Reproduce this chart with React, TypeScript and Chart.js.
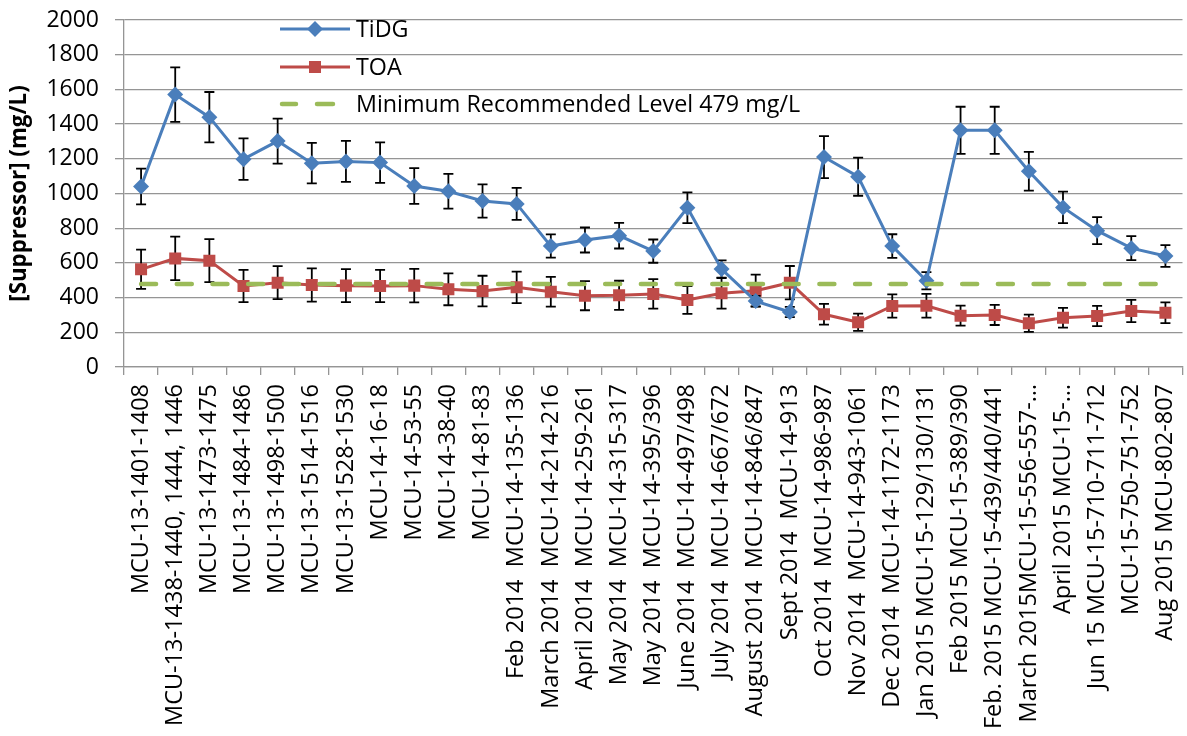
import { useEffect, useRef } from "react";
import { Chart, registerables } from "chart.js";

Chart.register(...registerables);

const categories = [
  "MCU-13-1401-1408",
  "MCU-13-1438-1440, 1444, 1446",
  "MCU-13-1473-1475",
  "MCU-13-1484-1486",
  "MCU-13-1498-1500",
  "MCU-13-1514-1516",
  "MCU-13-1528-1530",
  "MCU-14-16-18",
  "MCU-14-53-55",
  "MCU-14-38-40",
  "MCU-14-81-83",
  "Feb 2014  MCU-14-135-136",
  "March 2014  MCU-14-214-216",
  "April 2014  MCU-14-259-261",
  "May 2014  MCU-14-315-317",
  "May 2014  MCU-14-395/396",
  "June 2014  MCU-14-497/498",
  "July 2014  MCU-14-667/672",
  "August 2014  MCU-14-846/847",
  "Sept 2014  MCU-14-913",
  "Oct 2014  MCU-14-986-987",
  "Nov 2014  MCU-14-943-1061",
  "Dec 2014  MCU-14-1172-1173",
  "Jan 2015 MCU-15-129/130/131",
  "Feb 2015 MCU-15-389/390",
  "Feb. 2015 MCU-15-439/440/441",
  "March 2015MCU-15-556-557-…",
  "April 2015 MCU-15-…",
  "Jun 15 MCU-15-710-711-712",
  "MCU-15-750-751-752",
  "Aug 2015 MCU-802-807",
];

const tidgValues = [
  1040, 1570, 1440, 1198, 1302, 1175, 1185, 1178, 1043, 1013, 957, 940, 697, 732, 757, 668,
  918, 565, 380, 317, 1210, 1097, 697, 497, 1364, 1364, 1128, 920, 786, 685, 640,
];
const tidgErrors = [
  103, 157, 145, 120, 130, 117, 118, 117, 103, 100, 96, 92, 67, 72, 74, 67,
  89, 50, 30, 30, 121, 110, 68, 50, 136, 136, 112, 91, 78, 69, 63,
];
const toaValues = [
  563, 626, 613, 467, 486, 473, 469, 467, 469, 448, 438, 459, 434, 411, 413, 421,
  386, 425, 440, 486, 304, 258, 352, 353, 296, 300, 252, 284, 294, 323, 313,
];
const toaErrors = [
  113, 125, 124, 93, 95, 96, 95, 93, 96, 92, 88, 91, 86, 84, 84, 85,
  80, 88, 92, 96, 60, 50, 67, 68, 58, 58, 50, 57, 58, 64, 60,
];
const MIN_LEVEL = 479;
const minLevelValues = categories.map(() => MIN_LEVEL);

const seriesNames = ["TiDG", "TOA", "Minimum Recommended Level 479 mg/L"];

const BLUE = "#4A7EBB";
const RED = "#BE4B48";
const GREEN = "#9BBB59";
const GRID = "#959595";
const FONT = "'Open Sans', sans-serif";

const errorSets: Record<number, number[]> = { 0: tidgErrors, 1: toaErrors };

const errorBarPlugin = {
  id: "errorBars",
  beforeDatasetDraw(chart: any, args: any) {
    const errs = errorSets[args.index];
    if (!errs) return;
    const ctx = chart.ctx;
    const y = chart.scales.y;
    const meta = chart.getDatasetMeta(args.index);
    const vals = chart.data.datasets[args.index].data as number[];
    ctx.save();
    ctx.strokeStyle = "#000";
    ctx.lineWidth = 1.8;
    meta.data.forEach((pt: any, i: number) => {
      const x = pt.x;
      const top = y.getPixelForValue(vals[i] + errs[i]);
      const bot = y.getPixelForValue(vals[i] - errs[i]);
      ctx.beginPath();
      ctx.moveTo(x, top);
      ctx.lineTo(x, bot);
      ctx.moveTo(x - 5, top);
      ctx.lineTo(x + 5, top);
      ctx.moveTo(x - 5, bot);
      ctx.lineTo(x + 5, bot);
      ctx.stroke();
    });
    ctx.restore();
  },
};

const legendPlugin = {
  id: "innerLegend",
  afterDraw(chart: any) {
    const ctx = chart.ctx;
    const x0 = 280;
    const x1 = 350;
    const xm = 315;
    const tx = 356;
    const rows = [29, 67, 104];
    ctx.save();
    ctx.font = `23.3px ${FONT}`;
    ctx.textBaseline = "middle";
    ctx.textAlign = "left";
    // TiDG
    ctx.strokeStyle = BLUE;
    ctx.lineWidth = 3;
    ctx.beginPath();
    ctx.moveTo(x0, rows[0]);
    ctx.lineTo(x1, rows[0]);
    ctx.stroke();
    ctx.fillStyle = BLUE;
    ctx.beginPath();
    ctx.moveTo(xm, rows[0] - 8);
    ctx.lineTo(xm + 8, rows[0]);
    ctx.lineTo(xm, rows[0] + 8);
    ctx.lineTo(xm - 8, rows[0]);
    ctx.closePath();
    ctx.fill();
    // TOA
    ctx.strokeStyle = RED;
    ctx.beginPath();
    ctx.moveTo(x0, rows[1]);
    ctx.lineTo(x1, rows[1]);
    ctx.stroke();
    ctx.fillStyle = RED;
    ctx.fillRect(xm - 6, rows[1] - 6, 12, 12);
    // Min
    ctx.strokeStyle = GREEN;
    ctx.lineWidth = 4.5;
    ctx.lineCap = "round";
    ctx.beginPath();
    ctx.moveTo(282, rows[2]);
    ctx.lineTo(296, rows[2]);
    ctx.moveTo(317, rows[2]);
    ctx.lineTo(333, rows[2]);
    ctx.stroke();
    ctx.fillStyle = "#000";
    seriesNames.forEach((n, i) => ctx.fillText(n, tx, rows[i] + 1));
    ctx.restore();
  },
};

export default function App() {
  const ref = useRef<HTMLCanvasElement | null>(null);

  useEffect(() => {
    if (!ref.current) return;
    const chart = new Chart(ref.current, {
      type: "line",
      data: {
        labels: categories,
        datasets: [
          {
            label: seriesNames[0],
            data: tidgValues,
            borderColor: BLUE,
            backgroundColor: BLUE,
            borderWidth: 3,
            pointStyle: "rectRot",
            pointRadius: 8,
            pointBorderWidth: 0,
            pointBackgroundColor: BLUE,
            tension: 0,
            order: 1,
          },
          {
            label: seriesNames[1],
            data: toaValues,
            borderColor: RED,
            backgroundColor: RED,
            borderWidth: 3,
            pointStyle: "rect",
            pointRadius: 8.5,
            pointBorderWidth: 0,
            pointBackgroundColor: RED,
            tension: 0,
            order: 2,
          },
          {
            label: seriesNames[2],
            data: minLevelValues,
            borderColor: GREEN,
            borderWidth: 4.5,
            borderDash: [15, 20.7],
            borderCapStyle: "round",
            pointRadius: 0,
            tension: 0,
            order: 0,
          },
        ],
      },
      options: {
        animation: false,
        responsive: false,
        devicePixelRatio: 1,
        layout: { padding: { left: 3, top: 20, right: 0, bottom: 0 } },
        plugins: {
          legend: { display: false },
          tooltip: { enabled: false },
        },
        scales: {
          x: {
            type: "category",
            offset: true,
            grid: {
              offset: true,
              drawOnChartArea: false,
              drawTicks: true,
              tickLength: 8,
              color: GRID,
              lineWidth: 1.3,
            },
            border: { color: GRID, width: 1.3 },
            ticks: {
              autoSkip: false,
              maxRotation: 90,
              minRotation: 90,
              padding: 9,
              color: "#000",
              font: { family: FONT, size: 23.5 },
            },
            afterFit: (s: any) => {
              s.height = 369;
              s.paddingLeft = 0;
              s.paddingRight = 0;
            },
          },
          y: {
            min: 0,
            max: 2000,
            ticks: {
              stepSize: 200,
              padding: 16,
              color: "#000",
              font: { family: FONT, size: 23 },
              callback: (v: any) => String(v),
            },
            grid: { color: GRID, lineWidth: 1.3, tickLength: 9 },
            border: { color: GRID, width: 1.3 },
            title: {
              display: true,
              text: "[Suppressor] (mg/L)",
              color: "#000",
              font: { family: FONT, size: 22.3, weight: "bold" },
              padding: { top: 3, bottom: 0 },
            },
            afterFit: (s: any) => {
              s.width = 121;
              s.paddingTop = 0;
              s.paddingBottom = 0;
            },
          },
        },
      },
      plugins: [errorBarPlugin, legendPlugin],
    } as any);
    return () => chart.destroy();
  }, []);

  return (
    <div
      style={{
        position: "fixed",
        left: 0,
        top: 0,
        width: 1187,
        height: 736,
        overflow: "hidden",
        background: "#fff",
      }}
    >
      <canvas ref={ref} width={1191} height={736} style={{ display: "block" }} />
    </div>
  );
}
